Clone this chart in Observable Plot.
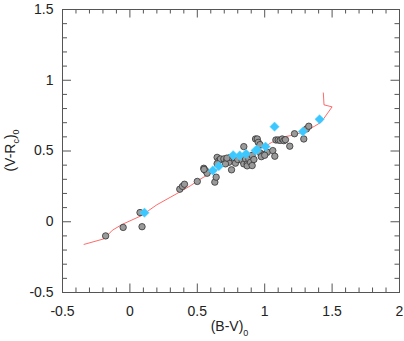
<!DOCTYPE html>
<html>
<head>
<meta charset="utf-8">
<script src="https://cdn.jsdelivr.net/npm/d3@7"></script>
<script src="https://cdn.jsdelivr.net/npm/@observablehq/plot@0.6"></script>
<style>
  html, body { margin: 0; padding: 0; background: #fff; }
  svg { display: block; }
</style>
</head>
<body>
<div id="chart"></div>
<script>
// ---- data ----
const greyBV = [-0.18,-0.05,0.09,0.075,0.37,0.39,0.405,0.50,0.548,0.56,0.573,0.55,0.63,0.64,0.647,0.66,0.672,0.647,0.697,0.717,0.734,0.709,0.746,0.754,0.72,0.77,0.783,0.80,0.845,0.833,0.845,0.858,0.87,0.87,0.882,0.895,0.907,0.907,0.92,0.932,0.945,0.952,0.965,0.969,0.993,1.019,0.975,1.0,1.06,1.075,1.083,1.10,1.115,1.13,1.142,1.154,1.186,1.221,1.29,1.31,1.327];
const greyVR = [-0.10,-0.04,-0.035,0.065,0.23,0.25,0.265,0.285,0.378,0.362,0.343,0.37,0.28,0.315,0.455,0.432,0.444,0.41,0.444,0.432,0.42,0.409,0.455,0.367,0.45,0.456,0.414,0.44,0.531,0.432,0.409,0.444,0.409,0.395,0.444,0.42,0.397,0.468,0.44,0.585,0.585,0.561,0.545,0.484,0.475,0.491,0.46,0.47,0.503,0.463,0.578,0.578,0.575,0.585,0.573,0.58,0.534,0.622,0.585,0.656,0.675];

const cyanBV = [0.108,0.615,0.66,0.766,0.815,0.862,0.932,0.944,1.006,1.073,1.283,1.407];
const cyanVR = [0.064,0.362,0.393,0.470,0.468,0.480,0.503,0.510,0.531,0.672,0.637,0.724];

const lineBV = [-0.34,-0.19,-0.13,-0.06,0.09,0.14,0.2,0.36,0.45,0.52,0.62,0.72,0.82,0.9,1.0,1.05,1.1,1.14,1.2,1.29,1.37,1.42,1.5,1.44,1.435];
const lineVR = [-0.16,-0.12,-0.06,-0.02,0.045,0.08,0.12,0.205,0.255,0.30,0.355,0.41,0.455,0.49,0.53,0.56,0.58,0.6,0.61,0.635,0.675,0.705,0.812,0.826,0.91];

const xTickLabels = [-0.5,0,0.5,1,1.5,2];
const yTickLabels = [-0.5,0,0.5,1,1.5];
const xMinor = [-0.4,-0.3,-0.2,-0.1,0.1,0.2,0.3,0.4,0.6,0.7,0.8,0.9,1.1,1.2,1.3,1.4,1.6,1.7,1.8,1.9];
const yMinor = [-0.4,-0.3,-0.2,-0.1,0.1,0.2,0.3,0.4,0.6,0.7,0.8,0.9,1.1,1.2,1.3,1.4];

const xLabel = ["(B-V)", "0"];
const yLabel = ["(V-R", "c", ")", "0"];

// ---- build tables ----
const grey = greyBV.map((x, i) => ({x, y: greyVR[i]}));
const cyan = cyanBV.map((x, i) => ({x, y: cyanVR[i]}));
const track = lineBV.map((x, i) => ({x, y: lineVR[i]}));

const W = 404, H = 341, ML = 62, MR = 5, MT = 9, MB = 49;
const FW = W - ML - MR, FH = H - MT - MB;
const axisColor = "#555";
const minorLen = 4.5, majorLen = 8.5;
const fmt = d => String(d);

const chart = Plot.plot({
  width: W, height: H,
  marginLeft: ML, marginRight: MR, marginTop: MT, marginBottom: MB,
  x: {domain: [-0.5, 2]},
  y: {domain: [-0.5, 1.5]},
  style: {fontFamily: "'Liberation Sans', Arial, sans-serif", fontSize: "14px", color: "#222", background: "#fff", overflow: "visible"},
  marks: [
    Plot.axisX(xTickLabels, {tickSize: 0, tickPadding: 14, tickFormat: fmt, fontSize: 14, label: null}),
    Plot.axisY(yTickLabels, {tickSize: 0, tickPadding: 9, tickFormat: fmt, fontSize: 14, label: null}),
    // bottom ticks
    Plot.tickX(xMinor, {x: d => d, insetTop: FH - minorLen, stroke: axisColor}),
    Plot.tickX(xTickLabels, {x: d => d, insetTop: FH - majorLen, stroke: axisColor}),
    // top ticks
    Plot.tickX(xMinor, {x: d => d, insetBottom: FH - minorLen, stroke: axisColor}),
    Plot.tickX(xTickLabels, {x: d => d, insetBottom: FH - majorLen, stroke: axisColor}),
    // left ticks
    Plot.tickY(yMinor, {y: d => d, insetRight: FW - minorLen - 0.5, stroke: axisColor}),
    Plot.tickY(yTickLabels, {y: d => d, insetRight: FW - majorLen - 0.5, stroke: axisColor}),
    // right ticks
    Plot.tickY(yMinor, {y: d => d, insetLeft: FW - minorLen, stroke: axisColor}),
    Plot.tickY(yTickLabels, {y: d => d, insetLeft: FW - majorLen, stroke: axisColor}),
    Plot.frame({stroke: axisColor, strokeWidth: 1}),
    Plot.line(track, {x: "x", y: "y", stroke: "#ff3030", strokeWidth: 0.9, strokeOpacity: 0.8, curve: "linear"}),
    Plot.dot(grey, {x: "x", y: "y", r: 3.2, fill: "#9a9a9a", stroke: "#333", strokeWidth: 0.8}),
    Plot.dot(cyan, {x: "x", y: "y", r: 4.2, symbol: "diamond2", fill: "#3cc8ff", stroke: "#55d4ff", strokeWidth: 0.5})
  ]
});

document.getElementById("chart").appendChild(chart);

// axis titles with subscripts
const svg = d3.select(chart);
const fontFam = "'Liberation Sans', Arial, sans-serif";
const xt = svg.append("text")
  .attr("x", ML + FW / 2 - 1).attr("y", 331)
  .attr("text-anchor", "middle")
  .attr("font-family", fontFam).attr("font-size", 14).attr("fill", "#222");
xt.append("tspan").text(xLabel[0]);
xt.append("tspan").attr("font-size", 9).attr("dy", 5).text(xLabel[1]);

const yt = svg.append("text")
  .attr("transform", `translate(14.5,${MT + FH / 2}) rotate(-90)`)
  .attr("text-anchor", "middle")
  .attr("font-family", fontFam).attr("font-size", 14).attr("fill", "#222");
yt.append("tspan").text(yLabel[0]);
yt.append("tspan").attr("font-size", 9).attr("dy", 4).text(yLabel[1]);
yt.append("tspan").attr("dy", -4).text(yLabel[2]);
yt.append("tspan").attr("font-size", 9).attr("dy", 4).text(yLabel[3]);
</script>
</body>
</html>
